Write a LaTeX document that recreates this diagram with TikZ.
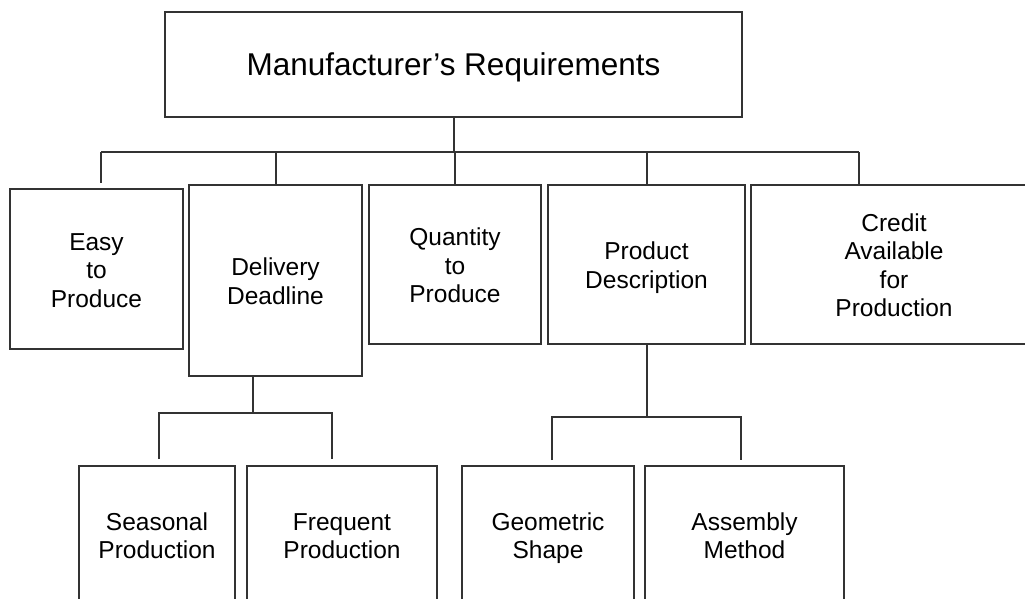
\documentclass[tikz,border=0pt]{standalone}
\usepackage{fontspec}
\setmainfont{Liberation Sans}
\newcommand\topstrut{\rule{0pt}{25.5pt}}
\newcommand\botstrut{\rule[-6.5pt]{0pt}{6.5pt}}
\begin{document}
\begin{tikzpicture}[x=1pt, y=-1pt,
        frame/.style={draw=black!80, line width=2pt, align=center, inner sep=0pt},
        box/.style={frame, font=\fontsize{24.5}{28.5}\selectfont},
        link/.style={draw=black!80, line width=2pt}]
        \useasboundingbox (0,0) rectangle (1025,598);
        % top
        \node[frame, minimum width=577pt, minimum height=105pt, text depth=0pt,
            font=\fontsize{31.5}{34}\selectfont] (req) at (453.5,64.5) {Manufacturer’s Requirements};
        % second row
        \node[box, minimum width=173pt, minimum height=160pt] (easy) at (96.5,269) {\topstrut Easy\\to\\Produce\botstrut};
        \node[box, minimum width=173pt, minimum height=191pt] (deliv) at (275.5,280.5) {\topstrut Delivery\\Deadline\botstrut};
        \node[box, minimum width=172pt, minimum height=159pt] (qty) at (455,264.5) {\topstrut Quantity\\to\\Produce\botstrut};
        \node[box, minimum width=197pt, minimum height=159pt] (prod) at (646.5,264.5) {\topstrut Product\\Description\botstrut};
        \node[box, minimum width=286pt, minimum height=159pt] (credit) at (894,264.5) {\topstrut Credit\\Available\\for\\Production\botstrut};
        % third row
        \node[box, minimum width=156pt, minimum height=138pt] (seas) at (157,535) {\topstrut Seasonal\\Production\botstrut};
        \node[box, minimum width=190pt, minimum height=138pt] (freq) at (342,535) {\topstrut Frequent\\Production\botstrut};
        \node[box, minimum width=172pt, minimum height=138pt] (geom) at (548,535) {\topstrut Geometric\\Shape\botstrut};
        \node[box, minimum width=199pt, minimum height=138pt] (asm) at (744.5,535) {\topstrut Assembly\\Method\botstrut};
        % main branches
        \coordinate (b1) at (101,152);
        \coordinate (b2) at (276,152);
        \coordinate (b5) at (859,152);
        \draw[link] (req.south) -- (req.south |- b1);
        \draw[link] (b1) -- (b5);
        \draw[link] (b1) -- (101,183);
        \draw[link] (b2) -- (b2 |- deliv.north);
        \draw[link] (qty.north |- b1) -- (qty.north);
        \draw[link] (prod.north |- b1) -- (prod.north);
        \draw[link] (b5) -- (b5 |- credit.north);
        % delivery branches
        \coordinate (d0) at (253,413);
        \coordinate (d1) at (159,459);
        \coordinate (d2) at (332,459);
        \draw[link] (d0 |- deliv.south) -- (d0);
        \draw[link] (d1) |- (d0) -| (d2);
        % product branches
        \coordinate (p0) at (prod.south |- 0,417);
        \coordinate (p1) at (552,460);
        \coordinate (p2) at (741,460);
        \draw[link] (prod.south) -- (p0);
        \draw[link] (p1) |- (p0) -| (p2);
\end{tikzpicture}
\end{document}
